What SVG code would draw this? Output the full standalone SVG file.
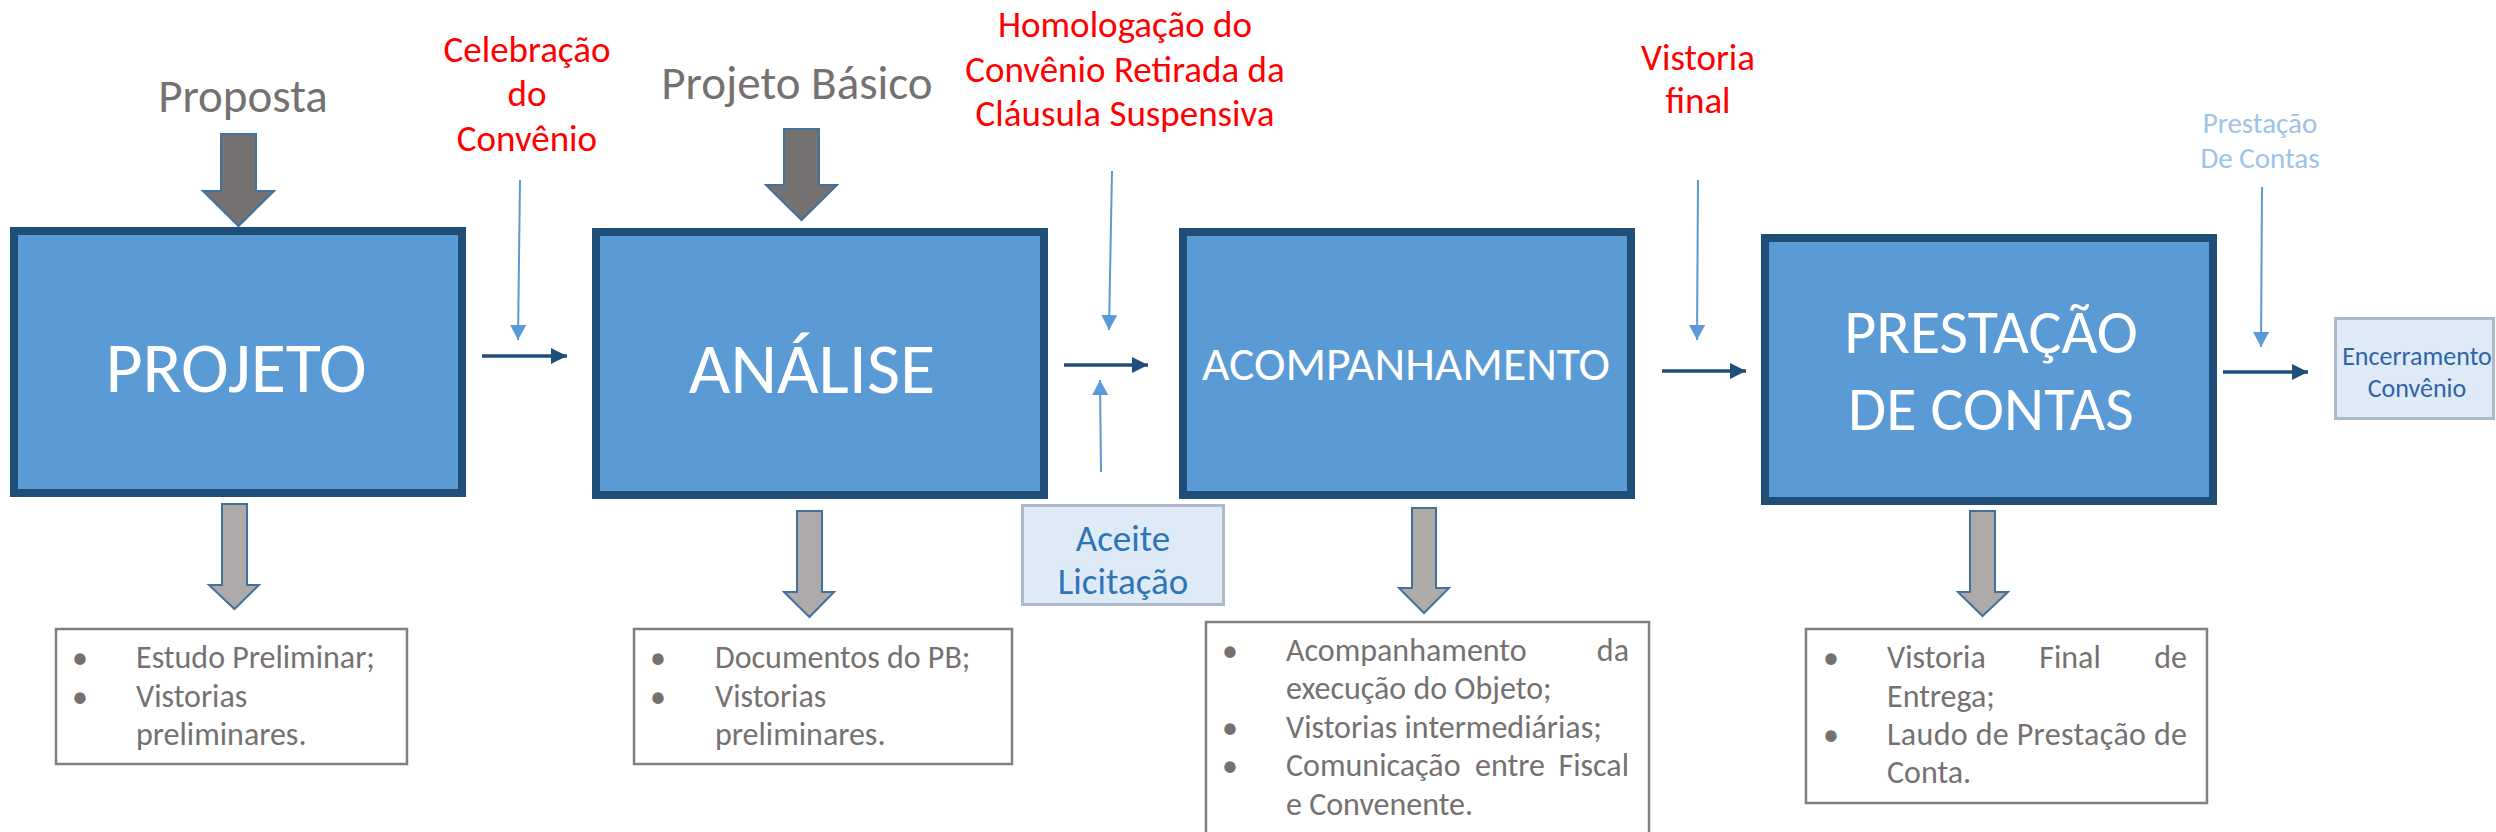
<svg xmlns="http://www.w3.org/2000/svg" width="2496" height="832" viewBox="0 0 2496 832">
<style>
text{font-family:Carlito,Calibri,Lato,"Liberation Sans",sans-serif}
.main{fill:#5B9BD5;stroke:#1F4E79;stroke-width:8}
.mt{fill:#FFFFFF;text-anchor:middle}
.red{fill:#FF0000;font-size:37px;text-anchor:middle}
.gt{fill:#767171;font-size:47px;text-anchor:middle}
.darr{fill:#767171;stroke:#41719C;stroke-width:2}
.larr{fill:#AEAAAA;stroke:#41719C;stroke-width:2}
.lst{fill:#FFFFFF;stroke:#7F7F7F;stroke-width:2.5}
.lt{fill:#767171;font-size:32px}
.lb{fill:#767171;font-size:32px;text-anchor:middle}
.lbox{fill:#DEEBF7;stroke:#ADB9CA;stroke-width:3}
.thin{stroke:#5B9BD5;stroke-width:2;fill:none}
.thick{stroke:#1F4E79;stroke-width:3.5;fill:none}
</style>
<defs>
<marker id="ahThin" markerUnits="userSpaceOnUse" markerWidth="16" markerHeight="16" refX="15" refY="8" orient="auto"><path d="M0,0 L15,8 L0,16 z" fill="#5B9BD5"/></marker>
<marker id="ahThick" markerUnits="userSpaceOnUse" markerWidth="17" markerHeight="16" refX="16" refY="8" orient="auto"><path d="M0,0 L16,8 L0,16 z" fill="#1F4E79"/></marker>
</defs>

<g id="label-proposta"><text class="gt" x="243" y="112">Proposta</text></g>
<g id="label-projeto-basico"><text class="gt" x="797" y="99">Projeto Básico</text></g>
<g id="label-celebracao"><text class="red" x="527" y="62">Celebração</text><text class="red" x="527" y="106">do</text><text class="red" x="527" y="151">Convênio</text></g>
<g id="label-homologacao"><text class="red" x="1125" y="37">Homologação do</text><text class="red" x="1125" y="82">Convênio Retirada da</text><text class="red" x="1125" y="126">Cláusula Suspensiva</text></g>
<g id="label-vistoria"><text class="red" x="1698" y="70">Vistoria</text><text class="red" x="1698" y="113">final</text></g>
<g id="label-prestacao"><text x="2260" y="133" style="fill:#9DC3E6;font-size:29px;text-anchor:middle">Prestação</text><text x="2260" y="168" style="fill:#9DC3E6;font-size:29px;text-anchor:middle">De Contas</text></g>

<g id="node-projeto"><rect class="main" x="14" y="231" width="448" height="262"/><text class="mt" x="236" y="392" style="font-size:72px">PROJETO</text></g>
<g id="node-analise"><rect class="main" x="596" y="232" width="448" height="263"/><text class="mt" x="812" y="393" style="font-size:72px">ANÁLISE</text></g>
<g id="node-acompanhamento"><rect class="main" x="1183" y="232" width="448" height="263"/><text class="mt" x="1406" y="380" style="font-size:47.5px">ACOMPANHAMENTO</text></g>
<g id="node-prestacao"><rect class="main" x="1765" y="238" width="448" height="263"/><text class="mt" x="1991" y="353" style="font-size:62px">PRESTAÇÃO</text><text class="mt" x="1991" y="430" style="font-size:62px">DE CONTAS</text></g>

<g id="node-aceite"><rect class="lbox" x="1022.5" y="505.5" width="201" height="99"/><text x="1123" y="551" style="fill:#2E75B6;font-size:37px;text-anchor:middle">Aceite</text><text x="1123" y="594" style="fill:#2E75B6;font-size:37px;text-anchor:middle">Licitação</text></g>
<g id="node-encerramento"><rect class="lbox" x="2335.5" y="318.5" width="158" height="100"/><text x="2417" y="365" style="fill:#2F64A6;font-size:26px;text-anchor:middle">Encerramento</text><text x="2417" y="397" style="fill:#2F64A6;font-size:26px;text-anchor:middle">Convênio</text></g>

<g id="list-projeto"><rect class="lst" x="56" y="629" width="351" height="135"/>
<text class="lb" x="80" y="668">•</text><text class="lb" x="80" y="707">•</text>
<text class="lt" x="136" y="668">Estudo Preliminar;</text><text class="lt" x="136" y="707">Vistorias</text><text class="lt" x="136" y="745">preliminares.</text></g>
<g id="list-analise"><rect class="lst" x="634" y="629" width="378" height="135"/>
<text class="lb" x="658" y="668">•</text><text class="lb" x="658" y="707">•</text>
<text class="lt" x="715" y="668">Documentos do PB;</text><text class="lt" x="715" y="707">Vistorias</text><text class="lt" x="715" y="745">preliminares.</text></g>
<g id="list-acompanhamento"><rect class="lst" x="1206" y="622" width="443" height="230"/>
<text class="lb" x="1230" y="661">•</text><text class="lb" x="1230" y="738">•</text><text class="lb" x="1230" y="776">•</text>
<text class="lt" x="1286" y="661">Acompanhamento</text><text class="lt" x="1629" y="661" text-anchor="end">da</text>
<text class="lt" x="1286" y="699">execução do Objeto;</text>
<text class="lt" x="1286" y="738">Vistorias intermediárias;</text>
<text class="lt" x="1286" y="776">Comunicação</text><text class="lt" x="1510" y="776" text-anchor="middle">entre</text><text class="lt" x="1629" y="776" text-anchor="end">Fiscal</text>
<text class="lt" x="1286" y="815">e Convenente.</text></g>
<g id="list-prestacao"><rect class="lst" x="1806" y="629" width="401" height="174"/>
<text class="lb" x="1831" y="668">•</text><text class="lb" x="1831" y="745">•</text>
<text class="lt" x="1887" y="668">Vistoria</text><text class="lt" x="2070" y="668" text-anchor="middle">Final</text><text class="lt" x="2187" y="668" text-anchor="end">de</text>
<text class="lt" x="1887" y="707">Entrega;</text>
<text class="lt" x="1887" y="745" textLength="300" lengthAdjust="spacing">Laudo de Prestação de</text>
<text class="lt" x="1887" y="783">Conta.</text></g>

<g id="connectors">
<polygon class="darr" points="221,134 256,134 256,191 274,191 238.5,226 203,191 221,191"/>
<polygon class="darr" points="784,129 819,129 819,185 837,185 801.5,220 766,185 784,185"/>
<polygon class="larr" points="222,504 247,504 247,585 259,585 234.5,609 209,585 222,585"/>
<polygon class="larr" points="797,511 822,511 822,592 834,592 809.5,617 784,592 797,592"/>
<polygon class="larr" points="1412,508 1436,508 1436,588 1449,588 1424,613 1399,588 1412,588"/>
<polygon class="larr" points="1970,511 1995,511 1995,592 2008,592 1982.5,616 1958,592 1970,592"/>
<line class="thin" x1="520" y1="180" x2="518" y2="340" marker-end="url(#ahThin)"/>
<line class="thin" x1="1112" y1="171" x2="1109" y2="330" marker-end="url(#ahThin)"/>
<line class="thin" x1="1101" y1="472" x2="1100" y2="380" marker-end="url(#ahThin)"/>
<line class="thin" x1="1698" y1="180" x2="1697" y2="340" marker-end="url(#ahThin)"/>
<line class="thin" x1="2262" y1="187" x2="2261" y2="347" marker-end="url(#ahThin)"/>
<line class="thick" x1="482" y1="356" x2="567" y2="356" marker-end="url(#ahThick)"/>
<line class="thick" x1="1064" y1="365" x2="1148" y2="365" marker-end="url(#ahThick)"/>
<line class="thick" x1="1662" y1="371" x2="1746" y2="371" marker-end="url(#ahThick)"/>
<line class="thick" x1="2223" y1="372" x2="2308" y2="372" marker-end="url(#ahThick)"/>
</g>
</svg>
